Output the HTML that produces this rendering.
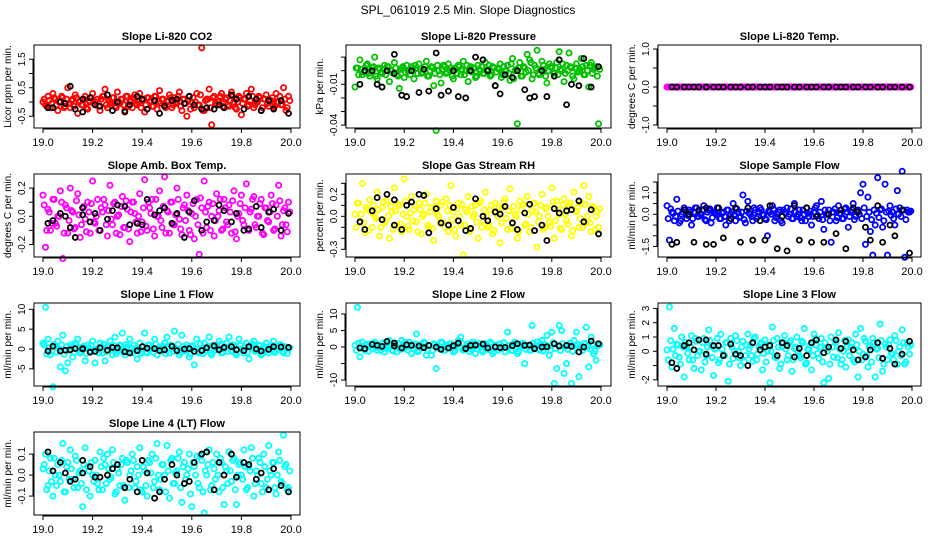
<!DOCTYPE html>
<html><head><meta charset="utf-8"><style>
body{margin:0;background:#fff;}
svg{display:block;font-family:"Liberation Sans",Arial,sans-serif;}
</style></head><body>
<svg id="chart" width="936" height="540" viewBox="0 0 936 540">
<text x="468" y="14" text-anchor="middle" font-size="12">SPL_061019  2.5 Min. Slope Diagnostics</text>
</svg>
<script>
const tC=[19.00,19.01,19.02,19.03,19.04,19.05,19.06,19.07,19.08,19.09,19.10,19.11,19.12,19.13,19.14,19.15,19.16,19.17,19.18,19.19,19.20,19.21,19.22,19.23,19.24,19.25,19.26,19.27,19.28,19.29,19.30,19.31,19.32,19.33,19.34,19.35,19.36,19.37,19.38,19.39,19.40,19.41,19.42,19.43,19.44,19.45,19.46,19.47,19.48,19.49,19.50,19.51,19.52,19.53,19.54,19.55,19.56,19.57,19.58,19.59,19.60,19.61,19.62,19.63,19.64,19.65,19.66,19.67,19.68,19.69,19.70,19.71,19.72,19.73,19.74,19.75,19.76,19.77,19.78,19.79,19.80,19.81,19.82,19.83,19.84,19.85,19.86,19.87,19.88,19.89,19.90,19.91,19.92,19.93,19.94,19.95,19.96,19.97,19.98,19.99];
const tD=[19.005,19.015,19.025,19.035,19.045,19.055,19.065,19.075,19.085,19.095,19.105,19.115,19.125,19.135,19.145,19.155,19.165,19.175,19.185,19.195,19.205,19.215,19.225,19.235,19.245,19.255,19.265,19.275,19.285,19.295,19.305,19.315,19.325,19.335,19.345,19.355,19.365,19.375,19.385,19.395,19.405,19.415,19.425,19.435,19.445,19.455,19.465,19.475,19.485,19.495,19.505,19.515,19.525,19.535,19.545,19.555,19.565,19.575,19.585,19.595,19.605,19.615,19.625,19.635,19.645,19.655,19.665,19.675,19.685,19.695,19.705,19.715,19.725,19.735,19.745,19.755,19.765,19.775,19.785,19.795,19.805,19.815,19.825,19.835,19.845,19.855,19.865,19.875,19.885,19.895,19.905,19.915,19.925,19.935,19.945,19.955,19.965,19.975,19.985,19.995];
const tK=[19.02,19.04,19.07,19.09,19.11,19.13,19.16,19.16,19.19,19.21,19.23,19.26,19.28,19.30,19.33,19.35,19.38,19.40,19.42,19.45,19.47,19.49,19.52,19.54,19.57,19.59,19.61,19.64,19.66,19.69,19.71,19.73,19.76,19.78,19.81,19.83,19.86,19.88,19.91,19.93,19.96,19.99];
const xTicks=[19.0,19.2,19.4,19.6,19.8,20.0];
const xTickLabels=["19.0","19.2","19.4","19.6","19.8","20.0"];

const c1=[0.0,-0.1,0.2,-0.2,0.3,0.1,-0.3,0.0,0.15,-0.15,0.5,-0.2,0.1,0.25,-0.4,0.05,-0.1,0.2,-0.25,0.0,0.3,-0.1,0.1,-0.3,0.2,0.45,-0.2,0.0,0.15,-0.15,0.35,-0.05,0.1,-0.3,0.2,0.0,-0.2,0.25,-0.1,0.3,0.05,-0.35,0.15,0.0,-0.15,0.2,-0.25,0.4,0.1,-0.1,0.0,0.25,-0.2,0.15,-0.05,0.35,-0.3,0.1,-0.5,0.2,0.0,-0.2,0.3,-0.1,1.9,-0.3,0.1,0.45,-0.8,0.2,-0.1,0.0,0.3,-0.2,0.15,-0.15,0.35,0.0,-0.25,0.2,-0.45,0.1,0.3,-0.1,0.45,-0.2,0.0,0.2,-0.3,0.1,0.25,-0.15,0.05,-0.2,0.3,0.0,-0.1,0.5,-0.3,0.2];
const d1=[0.1,-0.15,0.05,-0.05,0.15,-0.1,0.0,0.2,-0.2,0.1,-0.05,0.05,-0.15,0.15,0.0,-0.1,0.1,-0.2,0.05,0.15,-0.05,0.0,-0.15,0.1,0.2,-0.1,0.05,-0.05,0.15,-0.2,0.0,0.1,-0.1,0.2,-0.15,0.05,0.15,-0.05,0.0,-0.2,0.1,-0.1,0.15,0.05,-0.15,0.2,0.0,-0.05,0.1,-0.2,0.05,0.15,-0.1,0.0,0.2,-0.15,0.1,-0.05,0.05,-0.25,0.15,0.0,-0.1,0.25,-0.3,0.05,0.1,-0.2,0.15,-0.05,0.0,0.2,-0.15,0.1,-0.1,0.05,0.2,-0.2,0.0,0.15,-0.05,0.1,-0.15,0.05,0.2,-0.1,0.0,0.15,-0.2,0.1,-0.05,0.05,0.15,-0.15,0.0,0.2,-0.1,0.1,-0.2,0.05];
const k1=[-0.2,-0.2,0.0,-0.05,0.55,-0.25,-0.35,0.1,0.15,-0.1,-0.15,0.25,-0.3,0.0,-0.35,-0.1,0.2,0.1,-0.25,0.05,-0.4,-0.15,0.05,0.1,-0.05,0.2,-0.1,-0.25,-0.2,-0.25,-0.1,-0.2,0.25,0.1,-0.25,0.2,0.1,-0.3,0.05,-0.25,0.05,-0.4];
const c2=[-0.012,0.002,0.008,-0.003,0.0,0.005,-0.004,0.002,0.01,-0.006,0.001,-0.002,0.004,0.003,-0.008,0.0,0.006,-0.003,-0.013,0.002,-0.005,0.004,0.0,0.003,-0.006,0.002,0.005,-0.002,0.001,0.007,-0.004,0.003,-0.011,-0.044,0.0,-0.009,0.004,-0.002,0.005,0.002,-0.006,0.001,0.004,-0.003,0.007,0.0,-0.008,0.003,0.002,-0.005,0.004,0.0,-0.002,0.006,0.001,-0.004,0.003,-0.011,0.002,0.005,-0.003,0.0,0.004,-0.007,0.009,0.0,-0.039,0.006,-0.004,0.002,0.012,0.008,-0.006,0.004,0.015,-0.003,0.007,0.001,-0.009,0.005,0.003,-0.002,0.006,0.014,0.0,-0.008,0.004,0.013,0.002,-0.006,0.005,0.0,0.009,-0.003,0.004,-0.012,0.006,0.001,0.003,-0.039];
const d2=[0.002,-0.003,0.001,-0.001,0.004,-0.002,0.0,0.003,-0.004,0.002,-0.001,0.001,-0.003,0.003,0.0,-0.002,0.002,-0.004,0.001,0.003,-0.001,0.0,-0.003,0.002,0.004,-0.002,0.001,-0.001,0.003,-0.004,0.0,0.002,-0.002,0.004,-0.003,0.001,0.003,-0.001,0.0,-0.004,0.002,-0.002,0.003,0.001,-0.003,0.004,0.0,-0.001,0.002,-0.004,0.001,0.003,-0.002,0.0,0.004,-0.003,0.002,-0.001,0.001,-0.005,0.003,0.0,-0.002,0.005,-0.006,0.001,0.002,-0.004,0.003,-0.001,0.0,0.006,-0.003,0.002,-0.002,0.001,0.004,-0.004,0.0,0.003,-0.001,0.002,-0.003,0.001,0.005,-0.002,0.0,0.003,-0.004,0.002,-0.001,0.001,0.003,-0.003,0.0,0.004,-0.002,0.002,-0.004,0.001];
const k2=[-0.01,0.0,0.0,-0.01,-0.012,0.0,0.012,-0.002,-0.018,-0.019,0.0,-0.016,0.001,-0.015,0.013,-0.018,-0.015,0.0,-0.019,-0.02,0.0,0.01,0.008,0.0,-0.011,-0.017,-0.003,-0.005,0.0,-0.014,-0.02,-0.019,0.0,-0.019,-0.004,0.008,-0.025,-0.01,-0.011,0.009,-0.012,0.003];
const c3=[0,0,0,0,0,0,0,0,0,0,0,0,0,0,0,0,0,0,0,0,0,0,0,0,0,0,0,0,0,0,0,0,0,0,0,0,0,0,0,0,0,0,0,0,0,0,0,0,0,0,0,0,0,0,0,0,0,0,0,0,0,0,0,0,0,0,0,0,0,0,0,0,0,0,0,0,0,0,0,0,0,0,0,0,0,0,0,0,0,0,0,0,0,0,0,0,0,0,0,0];
const d3=[0,0,0,0,0,0,0,0,0,0,0,0,0,0,0,0,0,0,0,0,0,0,0,0,0,0,0,0,0,0,0,0,0,0,0,0,0,0,0,0,0,0,0,0,0,0,0,0,0,0,0,0,0,0,0,0,0,0,0,0,0,0,0,0,0,0,0,0,0,0,0,0,0,0,0,0,0,0,0,0,0,0,0,0,0,0,0,0,0,0,0,0,0,0,0,0,0,0,0,0];
const k3=[0,0,0,0,0,0,0,0,0,0,0,0,0,0,0,0,0,0,0,0,0,0,0,0,0,0,0,0,0,0,0,0,0,0,0,0,0,0,0,0,0,0];
const c4=[0.15,-0.22,0.05,-0.1,0.12,-0.05,0.0,0.18,-0.3,0.08,-0.12,0.2,0.03,-0.08,0.16,-0.15,0.06,-0.02,0.1,-0.12,0.25,-0.05,0.12,-0.1,0.03,0.08,-0.14,0.22,-0.06,0.1,0.0,-0.13,0.14,-0.08,0.05,-0.18,0.1,0.02,-0.12,0.16,-0.04,0.26,-0.1,0.06,0.12,-0.14,0.0,0.18,-0.08,0.28,0.04,-0.12,0.1,-0.06,0.2,-0.02,-0.13,0.08,0.15,-0.1,0.02,-0.16,0.12,-0.27,0.06,0.25,-0.08,0.1,0.0,-0.14,0.16,0.04,-0.1,0.12,-0.04,0.08,-0.12,0.18,-0.16,0.02,0.15,-0.06,0.23,-0.1,0.05,0.14,-0.08,0.0,0.12,-0.13,0.06,-0.04,0.15,-0.1,0.08,0.22,-0.14,0.04,-0.06,0.1];
const d4=[0.08,-0.1,0.03,-0.05,0.12,-0.07,0.0,0.1,-0.12,0.06,-0.03,0.04,-0.09,0.11,0.01,-0.06,0.07,-0.11,0.03,0.09,-0.04,0.0,-0.1,0.06,0.12,-0.06,0.04,-0.02,0.09,-0.12,0.01,0.07,-0.08,0.11,-0.09,0.03,0.1,-0.04,0.0,-0.11,0.06,-0.07,0.1,0.02,-0.09,0.12,0.0,-0.03,0.07,-0.12,0.03,0.1,-0.06,0.01,0.12,-0.09,0.06,-0.03,0.04,-0.13,0.09,0.0,-0.06,0.13,-0.12,0.03,0.07,-0.1,0.09,-0.03,0.0,0.12,-0.09,0.06,-0.06,0.03,0.11,-0.11,0.0,0.09,-0.03,0.06,-0.09,0.03,0.12,-0.06,0.0,0.09,-0.12,0.06,-0.03,0.03,0.09,-0.09,0.0,0.11,-0.06,0.06,-0.11,0.03];
const k4=[-0.05,-0.03,0.02,0.0,-0.08,-0.15,0.01,0.06,-0.04,0.02,-0.1,-0.02,0.04,0.08,0.07,-0.06,-0.05,-0.06,0.12,0.01,0.04,0.06,-0.05,0.02,-0.15,0.03,0.11,-0.1,-0.04,-0.03,0.08,0.04,-0.04,0.02,-0.1,-0.09,0.07,-0.08,0.03,0.05,-0.1,0.02];
const c5=[0.02,0.12,-0.05,0.3,-0.15,0.06,0.15,-0.1,0.0,0.22,-0.18,0.08,-0.06,0.14,-0.2,0.04,0.26,-0.08,0.1,-0.14,0.34,0.0,-0.12,0.18,0.06,-0.05,0.12,-0.16,0.02,0.2,-0.1,0.08,-0.22,0.14,0.0,0.1,-0.06,0.16,-0.14,0.28,0.04,-0.18,0.12,-0.08,-0.35,0.06,0.18,-0.12,0.0,0.1,-0.2,0.14,-0.04,0.22,-0.1,0.06,-0.16,0.12,0.0,-0.24,0.08,0.16,-0.12,0.25,-0.06,0.02,-0.2,0.14,0.1,-0.08,0.18,-0.14,0.05,0.12,-0.28,0.0,0.2,-0.1,0.08,-0.06,0.26,-0.2,0.14,0.02,-0.12,0.16,-0.04,0.1,-0.18,0.22,0.04,-0.1,0.12,0.28,-0.06,0.18,-0.14,0.08,0.0,-0.1];
const d5=[-0.1,0.12,0.02,-0.06,0.08,-0.13,0.04,0.1,-0.02,0.06,-0.1,0.13,-0.04,0.0,0.09,-0.12,0.05,0.11,-0.07,0.02,0.14,-0.09,0.03,-0.04,0.1,-0.14,0.06,0.0,0.12,-0.08,0.04,-0.11,0.08,0.02,-0.06,0.13,-0.1,0.05,0.1,-0.03,-0.12,0.07,0.0,0.11,-0.08,0.04,-0.14,0.09,0.02,-0.05,0.12,-0.1,0.06,0.0,-0.08,0.1,-0.13,0.03,0.08,-0.06,0.13,-0.02,0.05,-0.11,0.09,0.0,-0.14,0.06,0.11,-0.07,0.02,-0.1,0.12,0.04,-0.05,0.1,-0.12,0.07,0.0,-0.09,0.13,-0.04,0.06,-0.11,0.1,0.02,-0.07,0.12,-0.13,0.05,0.08,-0.02,-0.1,0.11,0.0,-0.06,0.09,-0.12,0.04,0.07];
const k5=[-0.05,-0.12,0.05,0.17,-0.03,0.2,0.15,-0.08,-0.12,0.1,0.13,0.2,0.19,-0.15,0.07,-0.06,-0.08,0.08,-0.04,-0.13,-0.11,0.16,0.0,-0.04,0.04,0.02,0.09,-0.06,-0.12,0.03,0.11,-0.13,-0.08,-0.22,0.07,0.03,0.05,0.06,0.14,-0.05,0.06,-0.16];
const c6=[0.4,-1.2,0.1,-0.3,0.7,-0.4,0.0,0.3,-0.2,0.2,-0.5,0.1,0.3,-0.1,0.0,0.4,-0.3,0.2,-0.4,0.1,0.0,0.3,-0.2,0.1,-0.5,0.2,0.0,0.5,-0.3,0.1,-0.1,0.9,-0.4,0.6,0.0,-0.3,0.2,-0.1,0.3,0.0,-0.2,-1.0,0.1,0.4,-0.3,0.0,0.2,-0.4,0.1,0.3,0.0,-0.2,0.5,-0.1,0.2,-0.3,0.0,0.3,-0.1,-0.5,0.1,0.4,-0.2,0.6,-0.7,0.0,0.2,-1.3,0.1,-0.3,0.4,0.0,-0.2,0.3,-0.6,0.1,0.5,-0.1,0.2,1.0,1.4,-1.4,0.8,-0.8,-1.9,-0.5,1.7,0.2,-0.6,1.4,-1.9,0.4,0.1,-0.5,1.1,0.3,2.0,-2.0,0.2,0.1];
const d6=[-0.2,0.25,0.05,-0.1,0.15,-0.3,0.1,0.2,-0.05,0.1,-0.2,0.3,-0.1,0.0,0.2,-0.25,0.1,0.25,-0.15,0.05,0.3,-0.2,0.05,-0.1,0.2,-0.3,0.1,0.0,0.25,-0.15,0.1,-0.25,0.15,0.05,-0.1,0.3,-0.2,0.1,0.2,-0.05,-0.25,0.15,0.0,0.25,-0.15,0.1,-0.3,0.2,0.05,-0.1,0.25,-0.2,0.1,0.0,-0.15,0.2,-0.3,0.05,0.15,-0.1,0.3,-0.05,0.1,-0.25,0.2,0.0,-0.3,0.1,0.25,-0.15,0.05,-0.2,0.25,0.1,-0.1,0.2,-0.25,0.15,0.0,-0.2,0.3,-0.1,0.1,-0.25,0.2,0.05,-0.15,0.25,-0.3,0.1,0.15,-0.05,-0.2,0.25,0.0,-0.1,0.2,-0.25,0.1,0.15];
const k6=[-1.4,-1.3,0.2,0.0,-1.3,0.2,-1.4,0.3,-1.4,0.3,-1.1,-0.2,0.3,-1.3,0.3,-1.2,-0.3,-1.2,0.4,-1.6,-0.1,-1.7,0.4,-1.2,0.3,-1.3,-0.1,-1.3,0.0,-0.9,0.2,-1.6,0.3,0.1,-0.6,-1.2,0.4,-1.3,-0.5,-1.0,0.2,-1.8];
const c7=[1.5,10.5,2.5,-1.5,-9.5,0.5,2.0,-4.5,3.5,-5.5,-3.5,1.0,-2.0,1.5,2.5,-1.0,0.5,-3.0,1.0,-0.5,2.0,-3.5,0.0,1.5,-1.0,-3.0,0.5,2.0,-1.5,3.0,-0.5,1.0,4.0,-1.5,0.5,2.5,-1.0,0.0,-2.5,1.5,-0.5,4.0,-1.0,1.0,0.0,2.5,-1.5,0.5,-0.5,1.5,3.0,-1.0,0.5,4.5,0.0,-1.5,3.5,-0.5,1.0,-2.0,0.5,-4.0,2.5,-1.0,0.0,1.5,-0.5,3.0,-1.5,0.5,1.0,2.0,-1.0,0.0,1.5,3.0,-0.5,1.0,-1.5,2.5,0.0,-1.0,1.5,-2.5,0.5,2.0,-0.5,1.0,-1.5,0.0,1.5,-1.0,0.5,2.0,-0.5,0.0,1.0,-1.0,0.5,0.0];
const d7=[1.0,-1.2,0.3,-0.5,1.2,-0.8,0.0,1.0,-1.3,0.6,-0.3,0.4,-0.9,1.1,0.1,-0.6,0.7,-1.1,0.3,0.9,-0.4,0.0,-1.0,0.6,1.2,-0.6,0.4,-0.2,0.9,-1.2,0.1,0.7,-0.8,1.1,-0.9,0.3,1.0,-0.4,0.0,-1.1,0.6,-0.7,1.0,0.2,-0.9,1.2,0.0,-0.3,0.7,-1.2,0.3,1.0,-0.6,0.1,1.2,-0.9,0.6,-0.3,0.4,-1.3,0.9,0.0,-0.6,1.3,-1.2,0.3,0.7,-1.0,0.9,-0.3,0.0,1.2,-0.9,0.6,-0.6,0.3,1.1,-1.1,0.0,0.9,-0.3,0.6,-0.9,0.3,1.2,-0.6,0.0,0.9,-1.2,0.6,-0.3,0.3,0.9,-0.9,0.0,1.1,-0.6,0.6,-1.1,0.3];
const k7=[-0.5,0.7,-0.5,-0.3,-0.2,0.1,0.1,0.0,-0.8,-0.6,0.3,-0.3,0.4,0.3,-0.7,-1.0,-0.4,0.6,0.2,0.1,-0.4,-0.2,0.7,-0.4,0.0,0.1,-0.6,-0.4,0.3,0.8,-0.2,0.4,0.6,-0.2,-0.4,0.6,0.0,-0.5,-0.1,0.6,0.5,0.4];
const c8=[0.5,12,-3,1.5,-1.0,0.5,1.0,-0.5,1.5,-1.0,0.0,1.0,-1.5,0.5,2.0,-1.0,0.5,-1.5,1.0,2.0,-0.5,0.0,1.5,-2.0,0.5,4.0,-1.0,0.0,1.5,-2.5,0.5,-2.5,1.0,-6.5,0.0,1.5,-1.0,0.5,0.0,1.0,-1.5,0.5,2.0,3.0,-1.0,0.0,1.0,-0.5,1.5,-2.0,0.5,0.0,-1.5,1.0,0.0,1.5,-2.0,0.5,-1.0,1.0,0.0,-1.5,4.5,0.5,-1.0,1.5,-2.0,0.0,1.0,-5.0,0.5,-1.0,6.5,0.0,1.5,-1.0,2.0,0.0,3.5,-2.5,4.5,-11.0,-6.5,6.5,5.0,-8.0,-5.0,0.5,-11.0,2.0,4.5,-9.0,0.0,1.0,6.0,-6.0,3.0,-2.0,-4.0,0.5];
const d8=[-1.0,1.2,0.2,-0.6,0.8,-1.3,0.4,1.0,-0.2,0.6,-1.0,1.3,-0.4,0.0,0.9,-1.2,0.5,1.1,-0.7,0.2,1.4,-0.9,0.3,-0.4,1.0,-1.4,0.6,0.0,1.2,-0.8,0.4,-1.1,0.8,0.2,-0.6,1.3,-1.0,0.5,1.0,-0.3,-1.2,0.7,0.0,1.1,-0.8,0.4,-1.4,0.9,0.2,-0.5,1.2,-1.0,0.6,0.0,-0.8,1.0,-1.3,0.3,0.8,-0.6,1.3,-0.2,0.5,-1.1,0.9,0.0,-1.4,0.6,1.1,-0.7,0.2,-1.0,1.2,0.4,-0.5,1.0,-1.2,0.7,0.0,-0.9,1.3,-0.4,0.6,-1.1,1.0,0.2,-0.7,1.2,-1.3,0.5,0.8,-0.2,-1.0,1.1,0.0,-0.6,0.9,-1.2,0.4,0.7];
const k8=[-0.3,-0.5,0.8,0.5,0.2,1.7,1.2,0.3,-0.3,0.7,0.5,0.3,-0.2,0.5,0.0,-0.7,-0.3,0.4,1.2,-0.5,0.5,0.6,0.9,-0.3,0.0,-0.2,-0.1,0.4,1.0,0.5,0.6,-0.5,0.0,0.1,1.0,0.3,0.5,0.2,-1.5,0.0,1.8,1.0];
const c9=[0.1,3.1,-1.1,1.6,0.5,-0.4,1.0,-1.8,0.3,-0.6,1.1,-1.2,0.7,0.0,-1.3,0.9,-0.3,1.5,0.4,-1.7,0.2,-0.8,1.2,-0.2,0.6,-2.1,0.9,-0.5,1.1,0.0,-1.0,0.7,-0.3,1.2,0.4,-0.7,1.0,-0.2,0.5,-1.3,0.8,0.0,-2.2,1.7,-0.4,0.9,-1.2,0.3,1.1,-0.6,0.6,-1.4,0.2,1.0,-0.3,0.7,1.6,-0.8,0.1,-1.3,1.2,0.4,-0.5,0.9,-2.2,0.2,-1.9,1.0,-0.4,0.6,1.3,-0.9,0.0,-1.1,0.8,0.3,-0.6,1.2,-1.8,1.6,-0.2,0.7,-1.1,0.4,0.9,-1.8,0.2,1.9,-1.4,0.5,-0.6,0.8,-0.2,1.1,-0.9,0.3,1.5,-0.9,0.6,-0.2];
const d9=[-0.6,0.75,0.15,-0.3,0.45,-0.9,0.3,0.6,-0.15,0.3,-0.6,0.9,-0.3,0.0,0.6,-0.75,0.3,0.75,-0.45,0.15,0.9,-0.6,0.15,-0.3,0.6,-0.9,0.3,0.0,0.75,-0.45,0.3,-0.75,0.45,0.15,-0.3,0.9,-0.6,0.3,0.6,-0.15,-0.75,0.45,0.0,0.75,-0.45,0.3,-0.9,0.6,0.15,-0.3,0.75,-0.6,0.3,0.0,-0.45,0.6,-0.9,0.15,0.45,-0.3,0.9,-0.15,0.3,-0.75,0.6,0.0,-0.9,0.3,0.75,-0.45,0.15,-0.6,0.75,0.3,-0.3,0.6,-0.75,0.45,0.0,-0.6,0.9,-0.3,0.3,-0.75,0.6,0.15,-0.45,0.75,-0.9,0.3,0.45,-0.15,-0.6,0.75,0.0,-0.3,0.6,-0.75,0.3,0.45];
const k9=[-0.8,-1.2,0.4,0.6,0.1,0.8,0.8,-0.2,0.4,0.4,-0.3,0.5,-0.2,-0.3,-1.0,0.6,0.1,0.3,0.4,-0.3,0.6,0.4,-0.4,0.2,-0.3,0.6,0.8,-0.1,0.3,0.8,0.2,0.7,0.1,-0.6,-0.4,0.1,0.6,-0.5,0.2,-0.9,-0.2,0.7];
const c10=[0.03,0.1,-0.05,0.08,-0.1,0.0,0.05,-0.03,0.15,-0.08,0.06,0.12,-0.02,0.09,-0.06,0.02,-0.15,0.13,0.04,-0.1,0.0,0.07,-0.04,0.11,-0.07,0.05,0.1,-0.02,0.12,-0.09,0.03,-0.05,0.08,-0.12,0.06,0.0,0.1,-0.06,0.04,0.13,-0.08,0.02,-0.1,0.06,0.1,-0.03,0.15,-0.07,0.05,0.0,0.14,-0.11,0.08,-0.04,0.02,0.11,-0.13,0.06,0.0,0.1,-0.15,0.04,0.09,-0.06,0.07,-0.18,0.0,0.12,-0.05,0.03,0.1,-0.08,0.06,-0.14,0.02,0.11,-0.03,0.08,-0.14,0.05,0.0,0.12,-0.07,0.04,0.13,-0.1,0.02,0.08,-0.04,0.1,-0.06,0.14,0.0,0.06,-0.09,0.11,-0.03,0.19,0.05,-0.06];
const d10=[0.05,-0.07,0.02,-0.03,0.08,-0.05,0.0,0.07,-0.08,0.04,-0.02,0.03,-0.06,0.07,0.01,-0.04,0.05,-0.07,0.02,0.06,-0.03,0.0,-0.07,0.04,0.08,-0.04,0.03,-0.01,0.06,-0.08,0.01,0.05,-0.05,0.07,-0.06,0.02,0.07,-0.03,0.0,-0.07,0.04,-0.05,0.07,0.01,-0.06,0.08,0.0,-0.02,0.05,-0.08,0.02,0.07,-0.04,0.01,0.08,-0.06,0.04,-0.02,0.03,-0.09,0.06,0.0,-0.04,0.09,-0.08,0.02,0.05,-0.07,0.06,-0.02,0.0,0.08,-0.06,0.04,-0.04,0.02,0.07,-0.07,0.0,0.06,-0.02,0.04,-0.06,0.02,0.08,-0.04,0.0,0.06,-0.08,0.04,-0.02,0.02,0.06,-0.06,0.0,0.07,-0.04,0.04,-0.07,0.02];
const k10=[0.11,0.02,0.06,0.01,-0.03,-0.02,0.07,0.01,0.04,-0.01,-0.01,0.0,0.03,0.05,-0.06,-0.02,-0.08,0.07,0.01,-0.11,-0.08,-0.02,0.05,0.0,-0.04,-0.03,0.06,0.1,0.11,-0.07,0.06,0.0,0.1,-0.01,0.06,0.05,-0.02,0.01,-0.07,0.03,-0.05,-0.08];

const titles=["Slope Li-820 CO2","Slope Li-820 Pressure","Slope Li-820 Temp.","Slope Amb. Box Temp.","Slope Gas Stream RH","Slope Sample Flow","Slope Line 1 Flow","Slope Line 2 Flow","Slope Line 3 Flow","Slope Line 4 (LT) Flow"];
const yTitles=["Licor ppm per min.","kPa per min.","degrees C per min.","degrees C per min.","percent per min.","ml/min per min.","ml/min per min.","ml/min per min.","ml/min per min.","ml/min per min."];
const yTicks=[[-0.5,0,0.5,1,1.5],[-0.04,-0.03,-0.02,-0.01,0,0.01],[-1,-0.5,0,0.5,1],[-0.2,-0.1,0,0.1,0.2],[-0.3,-0.2,-0.1,0,0.1,0.2,0.3],[-1.5,-1,-0.5,0,0.5,1,1.5],[-5,0,5,10],[-10,-5,0,5,10],[-2,-1,0,1,2,3],[-0.1,0,0.1]];
const yLabels=[{"-0.5":"-0.5","0.5":"0.5","1.5":"1.5"},{"-0.04":"-0.04","-0.01":"-0.01"},{"-1":"-1.0","0":"0.0","1":"1.0"},{"-0.2":"-0.2","0":"0.0","0.2":"0.2"},{"-0.3":"-0.3","0":"0.0","0.2":"0.2"},{"-1.5":"-1.5","0":"0.0","1":"1.0"},{"-5":"-5","0":"0","5":"5","10":"10"},{"-10":"-10","0":"0","5":"5","10":"10"},{"-2":"-2","0":"0","1":"1","2":"2","3":"3"},{"-0.1":"-0.1","0":"0.0","0.1":"0.1"}];
const yLims=[[-0.912,2.0],[-0.0421,0.0189],[-1.079,1.105],[-0.289,0.3],[-0.37,0.385],[-1.986,1.874],[-9.32,11.59],[-11.8,13.33],[-2.43,3.38],[-0.19,0.205]];
const colValues=[c1,c2,c3,c4,c5,c6,c7,c8,c9,c10];
const coreValues=[d1,d2,d3,d4,d5,d6,d7,d8,d9,d10];
const blkValues=[k1,k2,k3,k4,k5,k6,k7,k8,k9,k10];
const colors=["#ff0000","#00c000","#ff00ff","#ff00ff","#ffff00","#0000ff","#00ffff","#00ffff","#00ffff","#00ffff"];

const cols=[{l:34,r:300,x0:43,x1:291},{l:346,r:611,x0:355,x1:601},{l:658,r:921,x0:667,x1:912}];
const rows=[{t:45,b:128},{t:174,b:257},{t:303,b:386},{t:432,b:515}];
const NS="http://www.w3.org/2000/svg";
const svg=document.getElementById('chart');
function mk(tag,attrs,parent){const e=document.createElementNS(NS,tag);for(const k in attrs)e.setAttribute(k,attrs[k]);parent.appendChild(e);return e;}
function slug(s){return s.toLowerCase().replace(/[^a-z0-9]+/g,'-').replace(/^-|-$/g,'');}

for(let p=0;p<10;p++){
  const c=cols[p%3], r=rows[Math.floor(p/3)];
  const sx=v=>c.x0+(v-19)*(c.x1-c.x0);
  const lim=yLims[p];
  const sy=v=>r.b-(v-lim[0])/(lim[1]-lim[0])*(r.b-r.t);
  const g=mk('g',{},svg);
  
  
  const t=mk('text',{x:(c.l+c.r)/2,y:r.t-5,'text-anchor':'middle','font-size':'11','font-weight':'bold'},g);
  t.textContent=titles[p];
  
  
  const pts=mk('g',{fill:'none','stroke-width':'1.8'},g);
  
  
  const cv=colValues[p];
  for(let i=0;i<Math.min(cv.length,tC.length);i++){
    const cc=mk('circle',{cx:sx(tC[i]),cy:sy(cv[i]),r:2.6,stroke:colors[p]},pts);
    
    
  }
  const dv=coreValues[p];
  for(let i=0;i<Math.min(dv.length,tD.length);i++){
    const cc=mk('circle',{cx:sx(tD[i]),cy:sy(dv[i]),r:2.6,stroke:colors[p]},pts);
    
    
  }
  const kp=mk('g',{fill:'none','stroke-width':'1.8'},g);
  
  
  const kv=blkValues[p];
  for(let i=0;i<Math.min(kv.length,tK.length);i++){
    const cc=mk('circle',{cx:sx(tK[i]),cy:sy(kv[i]),r:2.5,stroke:'#000'},kp);
    
    
  }
  const bx=mk('rect',{x:c.l,y:r.t,width:c.r-c.l,height:r.b-r.t,fill:'none',stroke:'#000','stroke-width':'1'},g);
  
  
  const xa=mk('g',{},g);
  
  
  mk('line',{x1:sx(xTicks[0]),x2:sx(xTicks[xTicks.length-1]),y1:r.b+1,y2:r.b+1,stroke:'#000'},xa);
  xTicks.forEach((v,i)=>{
    mk('line',{x1:sx(v),x2:sx(v),y1:r.b,y2:r.b+5,stroke:'#000'},xa);
    const tl=mk('text',{x:sx(v),y:r.b+18,'text-anchor':'middle','font-size':'11'},xa);
    tl.textContent=xTickLabels[i];
    
    
  });
  const ya=mk('g',{},g);
  
  
  const yt=yTicks[p];
  mk('line',{x1:c.l-1,x2:c.l-1,y1:sy(yt[0]),y2:sy(yt[yt.length-1]),stroke:'#000'},ya);
  yt.forEach(v=>{
    mk('line',{x1:c.l-5,x2:c.l,y1:sy(v),y2:sy(v),stroke:'#000'},ya);
    const lab=yLabels[p][String(v)];
    if(lab!==undefined){
      const tl=mk('text',{x:0,y:0,'text-anchor':'middle','font-size':'10',transform:`translate(${c.l-9},${sy(v)}) rotate(-90)`},ya);
      tl.textContent=lab;
      
      
    }
  });
  const ytl=mk('text',{x:0,y:0,'text-anchor':'middle','font-size':'10',transform:`translate(${c.l-23},${(r.t+r.b)/2}) rotate(-90)`},g);
  ytl.textContent=yTitles[p];
  
  
}
</script>
</body></html>
